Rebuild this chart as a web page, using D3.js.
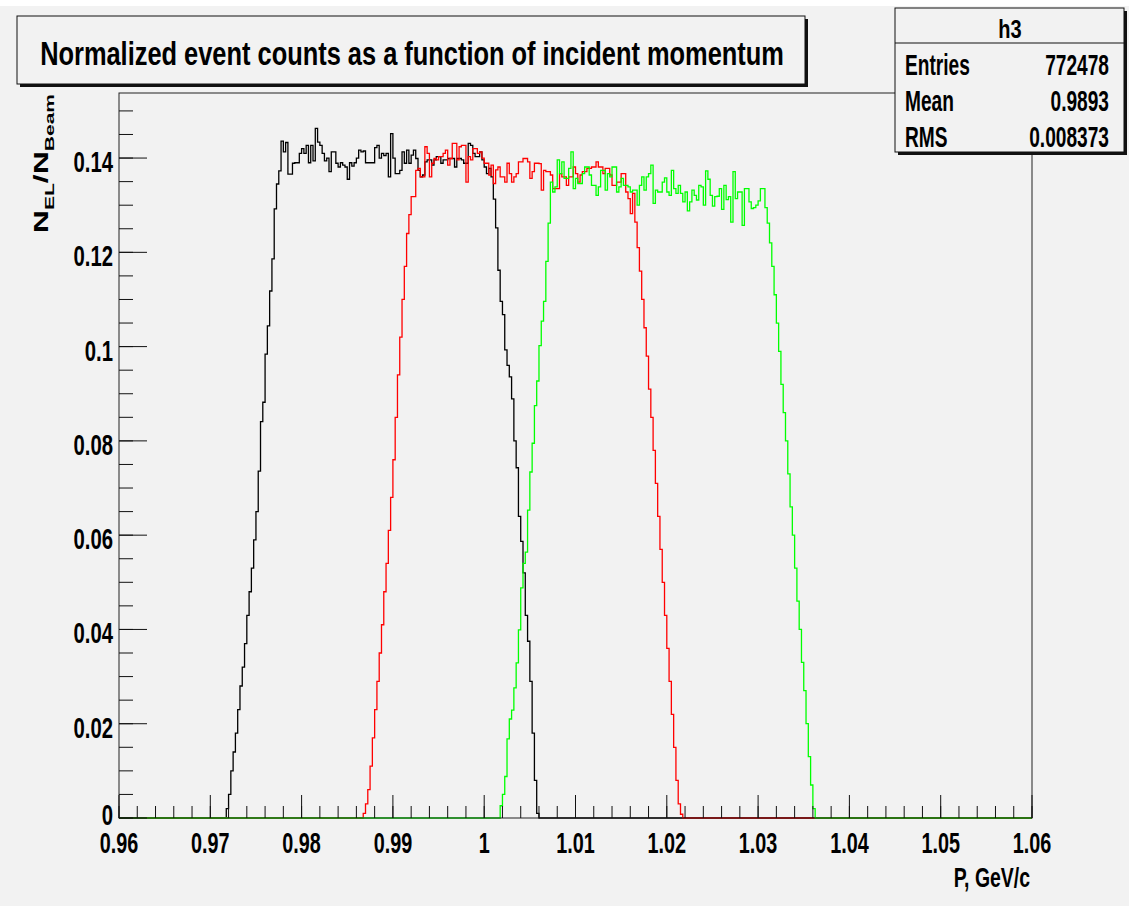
<!DOCTYPE html>
<html>
<head>
<meta charset="utf-8">
<script src="https://cdn.jsdelivr.net/npm/d3@7"></script>
<style>
  body { margin: 0; background: #ffffff; }
  svg { display: block; }
  text { font-family: "Liberation Sans", Arial, sans-serif; font-weight: bold; fill: #000; }
</style>
</head>
<body>
<svg id="chart" width="1129" height="906"></svg>
<script>
// histogram binning (0.96 .. 1.06, 400 bins)
const binLo = 0.96;
const binW = 0.00025;
const nBins = 400;

// black histogram (h3), first non-empty bin index and contents
const blackStart = 47;
const blackVals = [
  0.002, 0.005, 0.010, 0.014, 0.018, 0.023, 0.028, 0.032, 0.037, 0.043,
  0.048, 0.053, 0.059, 0.065, 0.0736, 0.0841, 0.0882, 0.0984, 0.1044, 0.1118,
  0.1186, 0.1292, 0.1345, 0.1373, 0.1436, 0.1413, 0.1433, 0.1366, 0.1366, 0.1389,
  0.1390, 0.1390, 0.1410, 0.1420, 0.1410, 0.1427, 0.1390, 0.1427, 0.1394, 0.1463,
  0.1434, 0.1427, 0.1410, 0.1394, 0.1400, 0.1371, 0.1413, 0.1413, 0.1389, 0.1381,
  0.1390, 0.1385, 0.1381, 0.1355, 0.1390, 0.1383, 0.1390, 0.1400, 0.1417, 0.1413,
  0.1415, 0.1390, 0.1390, 0.1390, 0.1390, 0.1422, 0.1427, 0.1400, 0.1410, 0.1405,
  0.1410, 0.1360, 0.1452, 0.1400, 0.1367, 0.1367, 0.1374, 0.1413, 0.1389, 0.1417,
  0.1389, 0.1406, 0.1417, 0.1399, 0.1374, 0.1360, 0.1364, 0.1392, 0.1396, 0.1396,
  0.1385, 0.1396, 0.1403, 0.1403, 0.1389, 0.1396, 0.1396, 0.1399, 0.1399, 0.1399,
  0.1381, 0.1399, 0.1399, 0.1396, 0.1389, 0.1389, 0.1431, 0.1427, 0.1410, 0.1403,
  0.1403, 0.1413, 0.1396, 0.1381, 0.1367, 0.1378, 0.1360, 0.1313, 0.1252, 0.1162,
  0.1096, 0.1068, 0.0993, 0.0960, 0.0936, 0.0889, 0.0800, 0.0743, 0.0640, 0.0587,
  0.0520, 0.0430, 0.0375, 0.0290, 0.0180, 0.0080, 0.0010
];

// red histogram
const redStart = 107;
const redVals = [
  0.001, 0.003, 0.006, 0.011, 0.017, 0.023, 0.029, 0.035, 0.041, 0.048,
  0.054, 0.061, 0.068, 0.076, 0.085, 0.094, 0.102, 0.110, 0.117, 0.124,
  0.128, 0.1318, 0.1318, 0.1374, 0.1378, 0.1360, 0.1360, 0.1424, 0.1410, 0.1360,
  0.1389, 0.1399, 0.1396, 0.1403, 0.1403, 0.1410, 0.1417, 0.1385, 0.1399, 0.1431,
  0.1431, 0.1396, 0.1424, 0.1427, 0.1427, 0.1349, 0.1403, 0.1396, 0.1420, 0.1420,
  0.1410, 0.1413, 0.1400, 0.1389, 0.1389, 0.1364, 0.1385, 0.1346, 0.1375, 0.1381,
  0.1360, 0.1360, 0.1349, 0.1389, 0.1367, 0.1349, 0.1360, 0.1367, 0.1392, 0.1392,
  0.1399, 0.1399, 0.1392, 0.1357, 0.1371, 0.1389, 0.1389, 0.1388, 0.1332, 0.1374,
  0.1371, 0.1371, 0.1364, 0.1335, 0.1335, 0.1335, 0.1367, 0.1360, 0.1360, 0.1342,
  0.1360, 0.1360, 0.1381, 0.1367, 0.1349, 0.1364, 0.1371, 0.1371, 0.1378, 0.1378,
  0.1381, 0.1381, 0.1392, 0.1381, 0.1381, 0.1367, 0.1378, 0.1378, 0.1364, 0.1342,
  0.1342, 0.1349, 0.1349, 0.1367, 0.1367, 0.1328, 0.1314, 0.1282, 0.1325, 0.1264,
  0.121, 0.116, 0.110, 0.104, 0.098, 0.091, 0.085, 0.078, 0.071, 0.064,
  0.057, 0.050, 0.043, 0.036, 0.029, 0.022, 0.015, 0.008, 0.003, 0.0008
];

// green histogram
const greenStart = 167;
const greenVals = [
  0.0026, 0.005, 0.0088, 0.0168, 0.021, 0.0229, 0.0276, 0.0329, 0.0399, 0.0488,
  0.054, 0.0564, 0.0653, 0.0734, 0.0795, 0.0875, 0.0927, 0.1002, 0.1054, 0.1096,
  0.1181, 0.1262, 0.1349, 0.1328, 0.1339, 0.1396, 0.1367, 0.1392, 0.1357, 0.1357,
  0.1378, 0.1413, 0.1335, 0.1357, 0.1346, 0.1346, 0.1367, 0.1381, 0.1381, 0.1364,
  0.1342, 0.1342, 0.1321, 0.1339, 0.1374, 0.1374, 0.1332, 0.1367, 0.1360, 0.1381,
  0.1381, 0.1328, 0.1339, 0.1357, 0.1342, 0.1342, 0.1339, 0.1328, 0.1332, 0.1332,
  0.1300, 0.1342, 0.1360, 0.1332, 0.1360, 0.1367, 0.1385, 0.1304, 0.1332, 0.1328,
  0.1328, 0.1349, 0.1358, 0.1328, 0.1321, 0.1374, 0.1335, 0.1325, 0.1342, 0.1325,
  0.1307, 0.1328, 0.1288, 0.1307, 0.1332, 0.1321, 0.1311, 0.1342, 0.1339, 0.1300,
  0.1373, 0.1355, 0.1321, 0.1298, 0.1318, 0.1319, 0.1335, 0.1291, 0.1342, 0.1312,
  0.1318, 0.1264, 0.1371, 0.1314, 0.1328, 0.1328, 0.1257, 0.1335, 0.1335, 0.1307,
  0.1293, 0.1295, 0.1300, 0.1309, 0.1335, 0.1335, 0.1295, 0.1262, 0.122, 0.117,
  0.111, 0.105, 0.099, 0.092, 0.086, 0.080, 0.073, 0.066, 0.060, 0.053,
  0.046, 0.040, 0.033, 0.027, 0.020, 0.013, 0.007, 0.002
];

// axis ticks and labels
const xTicks = [0.96, 0.97, 0.98, 0.99, 1.00, 1.01, 1.02, 1.03, 1.04, 1.05, 1.06];
const xTickLabels = ["0.96", "0.97", "0.98", "0.99", "1", "1.01", "1.02", "1.03", "1.04", "1.05", "1.06"];
const yTicks = [0, 0.02, 0.04, 0.06, 0.08, 0.10, 0.12, 0.14];
const yTickLabels = ["0", "0.02", "0.04", "0.06", "0.08", "0.1", "0.12", "0.14"];

// stats box
const statsName = "h3";
const statsRows = [["Entries", "772478"], ["Mean", "0.9893"], ["RMS", "0.008373"]];

const titleText = "Normalized event counts as a function of incident momentum";
const xTitle = "P, GeV/c";

// --------------------------------------------------
const W = 1129, H = 906;
const frame = { left: 119, right: 1032, top: 93, bottom: 818 };
const bg = "#f2f2f2";

const svg = d3.select("#chart");

const x = d3.scaleLinear().domain([0.96, 1.06]).range([frame.left, frame.right]);
const y = d3.scaleLinear().domain([0, 0.1538]).range([frame.bottom, frame.top]);

// canvas: grey pad, thin white strip along the top edge
svg.append("rect").attr("x", 0).attr("y", 0).attr("width", W).attr("height", H).attr("fill", "#ffffff");
svg.append("rect").attr("x", 0).attr("y", 6).attr("width", W).attr("height", H - 6).attr("fill", bg);

// histograms, ROOT order: black, red, green on top
const series = [
  { color: "#000000", start: blackStart, vals: blackVals },
  { color: "#ff0000", start: redStart, vals: redVals },
  { color: "#00ff00", start: greenStart, vals: greenVals }
];

const toBins = (s) => {
  const pts = d3.range(nBins).map((i) => {
    const k = i - s.start;
    return { x0: binLo + i * binW, v: k >= 0 && k < s.vals.length ? s.vals[k] : 0 };
  });
  pts.push({ x0: binLo + nBins * binW, v: pts[pts.length - 1].v });
  return pts;
};

const line = d3.line()
  .x((d) => x(d.x0))
  .y((d) => y(d.v))
  .curve(d3.curveStepAfter);

svg.append("g")
  .selectAll("path")
  .data(series)
  .enter()
  .append("path")
  .attr("fill", "none")
  .attr("stroke", (d) => d.color)
  .attr("stroke-width", 1.3)
  .attr("d", (d) => line(toBins(d)));

// frame
svg.append("rect")
  .attr("x", frame.left).attr("y", frame.top)
  .attr("width", frame.right - frame.left).attr("height", frame.bottom - frame.top)
  .attr("fill", "none").attr("stroke", "#222").attr("stroke-width", 1);

// ticks
const ax = svg.append("g").attr("stroke", "#111").attr("stroke-width", 1);
const xMinor = d3.range(0, 51).map((i) => 0.96 + i * 0.002);
ax.selectAll(".xminor").data(xMinor).enter().append("line")
  .attr("x1", (d) => x(d)).attr("x2", (d) => x(d))
  .attr("y1", frame.bottom).attr("y2", frame.bottom - 12);
ax.selectAll(".xmajor").data(xTicks).enter().append("line")
  .attr("x1", (d) => x(d)).attr("x2", (d) => x(d))
  .attr("y1", frame.bottom).attr("y2", frame.bottom - 23);
const yMinor = d3.range(0, 31).map((i) => i * 0.005);
ax.selectAll(".yminor").data(yMinor).enter().append("line")
  .attr("x1", frame.left).attr("x2", frame.left + 14)
  .attr("y1", (d) => y(d)).attr("y2", (d) => y(d));
ax.selectAll(".ymajor").data(yTicks).enter().append("line")
  .attr("x1", frame.left).attr("x2", frame.left + 28)
  .attr("y1", (d) => y(d)).attr("y2", (d) => y(d));

// tick labels (ROOT helvetica bold, narrow)
svg.append("g").selectAll("text").data(xTicks).enter().append("text")
  .attr("transform", (d) => `translate(${x(d)},853) scale(0.66,1)`)
  .attr("text-anchor", "middle")
  .attr("font-size", 30)
  .text((d, i) => xTickLabels[i]);

svg.append("g").selectAll("text").data(yTicks).enter().append("text")
  .attr("transform", (d) => `translate(113,${d === 0 ? y(d) + 7 : y(d) + 14}) scale(0.7,1)`)
  .attr("text-anchor", "end")
  .attr("font-size", 29)
  .text((d, i) => yTickLabels[i]);

// axis titles
svg.append("text")
  .attr("transform", "translate(1030,887) scale(0.72,1)")
  .attr("text-anchor", "end")
  .attr("font-size", 27)
  .text(xTitle);

const yt = svg.append("text")
  .attr("transform", "translate(48,94) scale(0.62,1) rotate(-90)")
  .attr("text-anchor", "end")
  .attr("font-size", 32);
yt.append("tspan").text("N");
yt.append("tspan").attr("font-size", 21).attr("dy", 9).text("EL");
yt.append("tspan").attr("dy", -9).text("/N");
yt.append("tspan").attr("font-size", 21).attr("dy", 9).text("Beam");

// title box with shadow
const box = (g, bx, by, bw, bh) => {
  g.append("rect").attr("x", bx + 3).attr("y", by + 3).attr("width", bw).attr("height", bh).attr("fill", "#111");
  g.append("rect").attr("x", bx).attr("y", by).attr("width", bw).attr("height", bh)
    .attr("fill", bg).attr("stroke", "#111").attr("stroke-width", 1);
};

const tg = svg.append("g");
box(tg, 17, 16, 788, 68);
tg.append("text")
  .attr("transform", "translate(412,65) scale(0.77,1)")
  .attr("text-anchor", "middle")
  .attr("font-size", 33)
  .text(titleText);

// stats box
const sg = svg.append("g");
box(sg, 895, 8, 229, 144);
sg.append("line").attr("x1", 895).attr("x2", 1124).attr("y1", 43).attr("y2", 43)
  .attr("stroke", "#111");
sg.append("text")
  .attr("transform", "translate(1010,38) scale(0.8,1)")
  .attr("text-anchor", "middle")
  .attr("font-size", 25)
  .text(statsName);
statsRows.forEach((r, i) => {
  const by = 75 + i * 36;
  sg.append("text").attr("transform", `translate(905,${by}) scale(0.66,1)`)
    .attr("font-size", 29).text(r[0]);
  sg.append("text").attr("transform", `translate(1109,${by}) scale(0.66,1)`)
    .attr("text-anchor", "end").attr("font-size", 29).text(r[1]);
});
</script>
</body>
</html>
